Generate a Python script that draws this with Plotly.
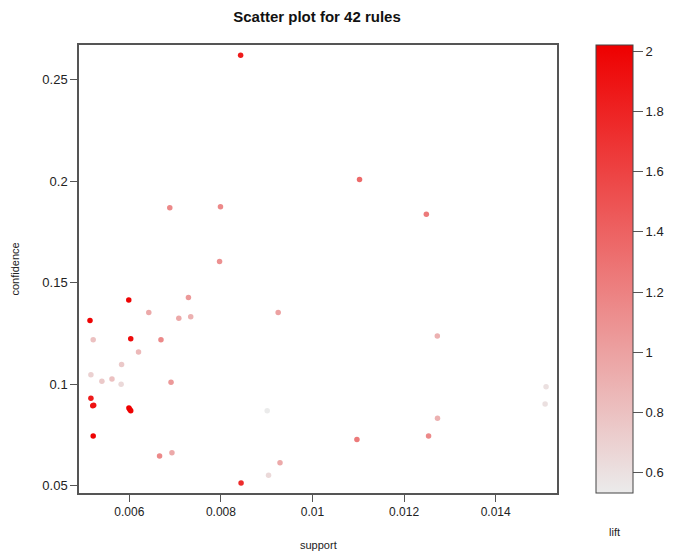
import plotly.graph_objects as go

support = [0.00843, 0.006883, 0.00799, 0.00797, 0.011027, 0.012486,
           0.005987, 0.00729, 0.006424, 0.00708, 0.00734, 0.00925,
           0.00514, 0.00521, 0.00603, 0.00669, 0.0062, 0.00583,
           0.00516, 0.0054, 0.00562, 0.00582, 0.00691, 0.00516,
           0.00520, 0.00522, 0.00599, 0.00603, 0.00601, 0.00521,
           0.00666, 0.00693, 0.00844, 0.00901, 0.00904, 0.00929,
           0.012726, 0.015101, 0.01508, 0.01273, 0.012535, 0.01097]
confidence = [0.262, 0.1868, 0.1873, 0.1604, 0.2008, 0.1836,
              0.1414, 0.1427, 0.1353, 0.1324, 0.1332, 0.1353,
              0.1314, 0.1219, 0.1223, 0.1219, 0.1158, 0.1097,
              0.1046, 0.1014, 0.1025, 0.1000, 0.1009, 0.0930,
              0.0894, 0.0896, 0.0882, 0.0869, 0.0875, 0.0745,
              0.0646, 0.0662, 0.0513, 0.0869, 0.0551, 0.0613,
              0.1237, 0.0987, 0.0902, 0.0832, 0.0745, 0.0728]
lift = [1.85, 1.15, 1.15, 1.1, 1.35, 1.25,
        2.0, 1.05, 0.95, 0.95, 0.9, 1.0,
        2.0, 0.8, 1.95, 1.15, 0.85, 0.75,
        0.7, 0.75, 0.8, 0.65, 1.05, 1.85,
        1.9, 1.9, 2.02, 2.0, 2.0, 2.0,
        1.15, 0.95, 1.75, 0.533, 0.65, 0.95,
        0.9, 0.6, 0.6, 0.9, 1.15, 1.25]

x_ticks = [0.006, 0.008, 0.01, 0.012, 0.014]
x_labels = ["0.006", "0.008", "0.01", "0.012", "0.014"]
y_ticks = [0.05, 0.1, 0.15, 0.2, 0.25]
y_labels = ["0.05", "0.1", "0.15", "0.2", "0.25"]
cb_ticks = [0.6, 0.8, 1.0, 1.2, 1.4, 1.6, 1.8, 2.0]
cb_labels = ["0.6", "0.8", "1", "1.2", "1.4", "1.6", "1.8", "2"]

order = sorted(range(len(lift)), key=lambda i: lift[i])
xs = [support[i] for i in order]
ys = [confidence[i] for i in order]
cs = [lift[i] for i in order]

font = "Liberation Sans, Arial, sans-serif"
axcol = "#555555"
txt = "#222222"

# page body has an 8px margin, so the figure is drawn 8px smaller and offset
W, H = 667, 545
L, T, R, B = 71, 37, 118, 60
PW = W - L - R  # 478
PH = H - T - B  # 448

fig = go.Figure(go.Scatter(
    x=xs, y=ys, mode="markers",
    marker=dict(
        size=5.5, color=cs, cmin=min(lift), cmax=max(lift),
        colorscale=[[0, "#EBEBEB"], [1, "#EE0000"]],
        line=dict(width=0),
        colorbar=dict(
            thickness=37, thicknessmode="pixels", lenmode="pixels", len=PH,
            x=(588 - L) / PW, xanchor="left", y=0.5, yanchor="middle",
            xpad=0, ypad=0,
            outlinewidth=1, outlinecolor="#444444",
            tickmode="array", tickvals=cb_ticks, ticktext=cb_labels,
            ticks="outside", ticklen=10, tickcolor=axcol,
            tickfont=dict(family=font, size=13, color=txt),
        ),
    ),
    showlegend=False,
))

fig.update_layout(
    width=W, height=H,
    margin=dict(l=L, r=R, t=T, b=B, autoexpand=False),
    paper_bgcolor="white", plot_bgcolor="white",
    title=dict(text="<b>Scatter plot for 42 rules</b>", x=309 / W, xanchor="center",
               y=1 - 8.5 / H, yanchor="middle",
               font=dict(family=font, size=15, color="#111111")),
    font=dict(family=font, size=12, color=txt),
    annotations=[
        dict(text="lift", xref="paper", yref="paper", x=(606 - L) / PW, y=-39 / PH,
             xanchor="center", yanchor="middle", showarrow=False,
             font=dict(family=font, size=11, color=txt)),
        dict(text="support", xref="paper", yref="paper", x=0.5, y=-52 / PH,
             xanchor="center", yanchor="middle", showarrow=False,
             font=dict(family=font, size=11, color=txt)),
        dict(text="confidence", xref="paper", yref="paper", x=(6.5 - L) / PW, y=0.5,
             xanchor="center", yanchor="middle", showarrow=False, textangle=-90,
             font=dict(family=font, size=11, color=txt)),
    ],
)
fig.update_xaxes(
    range=[0.0049, 0.01534], showgrid=False, zeroline=False, automargin=False,
    showline=True, mirror=True, linecolor=axcol, linewidth=1.5,
    ticks="outside", ticklen=7, tickcolor=axcol,
    tickmode="array", tickvals=x_ticks, ticktext=x_labels,
    tickfont=dict(family=font, size=12, color=txt),
)
fig.update_yaxes(
    range=[0.0464, 0.267], showgrid=False, zeroline=False, automargin=False,
    showline=True, mirror=True, linecolor=axcol, linewidth=1.5,
    ticks="outside", ticklen=7, tickcolor=axcol,
    tickmode="array", tickvals=y_ticks, ticktext=y_labels,
    tickfont=dict(family=font, size=13, color=txt),
)

fig.write_html("out.html")
